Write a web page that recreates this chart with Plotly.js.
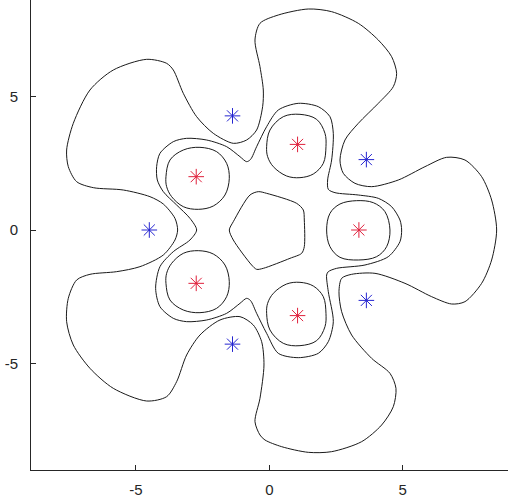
<!DOCTYPE html>
<html>
<head>
<meta charset="utf-8">
<script src="https://cdn.plot.ly/plotly-3.0.1.min.js"></script>
<style>html,body{margin:0;padding:0;background:#fff;}#chart{width:508px;height:499px;}</style>
</head>
<body>
<div id="chart"></div>
<script>
// Outer 5-petal contour
const outerX = [-7.60,-7.35,-6.725,-5.85,-4.60,-3.85,-3.60,-3.225,-2.725,-2.10,-1.35,-0.85,-0.475,-0.25,-0.225,-0.35,-0.5375,-0.35,0.3375,1.4625,2.3375,3.3375,4.0875,4.5875,4.775,4.65,4.0875,3.3375,2.8375,2.65,2.775,3.2125,3.8375,4.8375,5.8375,6.65,7.3375,7.9625,8.3375,8.525,8.3375,7.9625,7.3375,6.8375,6.0875,5.0875,3.9625,3.0875,2.7125,2.6125,2.7125,3.0875,3.8375,4.525,4.75,4.65,4.2125,3.4625,2.3375,1.4625,0.4625,-0.1625,-0.35,-0.5375,-0.35,-0.20,-0.2875,-0.60,-1.10,-1.85,-2.60,-3.10,-3.475,-3.85,-4.60,-5.85,-6.725,-7.35,-7.60,-7.5375,-7.225,-6.725,-5.725,-4.85,-3.975,-3.5375,-3.4375,-3.5375,-3.975,-4.475,-5.475,-6.60,-7.225,-7.5375,-7.60];
const outerY = [3.00,4.00,5.25,6.00,6.40,6.25,6.00,5.125,4.25,3.625,3.25,3.375,3.75,4.625,5.25,6.125,7.125,7.75,8.0625,8.2875,8.1875,7.75,7.125,6.50,5.875,5.375,4.75,4.00,3.375,2.625,2.125,1.75,1.625,1.875,2.375,2.725,2.625,2.00,1.125,0,-1.125,-2.00,-2.6875,-2.775,-2.50,-2.00,-1.625,-1.6625,-1.8125,-2.3125,-3.0625,-3.9375,-4.8125,-5.375,-5.9375,-6.625,-7.3125,-7.9375,-8.3125,-8.3375,-8.125,-7.875,-7.6875,-7.1875,-6.3125,-5.0625,-4.1875,-3.5625,-3.25,-3.375,-3.9375,-4.6875,-5.6875,-6.25,-6.4125,-5.9375,-5.1875,-4.3125,-3.4375,-2.5625,-1.875,-1.6625,-1.5625,-1.375,-0.9375,-0.375,0,0.4375,0.975,1.25,1.50,1.5875,1.8125,2.375,3.00];

// Middle contour enclosing the five loops
const midX = [-4.225,-4.10,-3.60,-3.10,-2.35,-1.60,-1.10,-0.85,-0.70,-0.475,-0.10,0.3375,1.0875,1.8375,2.275,2.40,2.3375,2.1875,2.2125,2.4625,3.3375,4.0875,4.5875,4.90,4.9625,4.90,4.4625,3.5875,2.525,2.2125,2.15,2.2125,2.40,2.2125,1.8375,1.0875,0.3375,-0.10,-0.475,-0.70,-0.85,-1.10,-1.60,-2.35,-3.10,-3.60,-4.10,-4.2625,-4.10,-3.60,-2.975,-2.725,-2.975,-3.475,-3.975,-4.20,-4.225];
const midY = [2.375,2.875,3.3125,3.4375,3.375,3.125,2.75,2.5625,2.65,3.125,3.875,4.50,4.75,4.625,4.25,3.625,2.625,1.875,1.525,1.40,1.3125,1.1875,0.875,0.375,0,-0.4375,-1.00,-1.3125,-1.4375,-1.5625,-1.6875,-2.3125,-3.4375,-4.1875,-4.625,-4.7875,-4.625,-3.875,-3.125,-2.65,-2.5625,-2.75,-3.125,-3.375,-3.4375,-3.3125,-2.875,-2.1875,-1.375,-0.8125,-0.375,0,0.4375,0.9375,1.4375,1.875,2.375];

// Five small loops around the red points
const loopTopX = [-0.10,0.025,0.525,1.15,1.775,2.0875,2.125,2.025,1.65,1.15,0.65,0.15,-0.0625,-0.10];
const loopTopY = [3.125,3.75,4.25,4.3375,4.15,3.625,3.125,2.50,2.10,1.9625,2.025,2.375,2.75,3.125];
const loopBotX = [-0.10,0.025,0.525,1.15,1.775,2.0875,2.125,2.025,1.65,1.15,0.65,0.15,-0.0625,-0.10];
const loopBotY = [-3.125,-3.75,-4.25,-4.3375,-4.15,-3.625,-3.125,-2.50,-2.10,-1.9625,-2.025,-2.375,-2.75,-3.125];
const loopRightX = [2.15,2.275,2.65,3.275,3.90,4.3375,4.525,4.40,4.025,3.3375,2.65,2.275,2.15];
const loopRightY = [0,0.625,0.975,1.10,1.025,0.6875,0,-0.625,-1.00,-1.125,-1.025,-0.625,0];
const loopULX = [-3.875,-3.725,-3.225,-2.60,-1.975,-1.60,-1.50,-1.6625,-2.10,-2.6625,-3.225,-3.6625,-3.85,-3.875];
const loopULY = [2.00,2.625,3.00,3.10,2.9375,2.50,1.9375,1.3125,0.90,0.775,0.875,1.25,1.625,2.00];
const loopLLX = [-3.875,-3.725,-3.225,-2.60,-1.975,-1.60,-1.50,-1.6625,-2.10,-2.6625,-3.225,-3.6625,-3.85,-3.875];
const loopLLY = [-2.00,-2.625,-3.00,-3.10,-2.9375,-2.50,-1.9375,-1.3125,-0.90,-0.775,-0.875,-1.25,-1.625,-2.00];

// Central rounded pentagon
const pentX = [-0.4125,-0.10,1.025,1.275,1.3125,1.3125,1.2125,0.775,-0.225,-0.475,-0.6625,-1.35,-1.50,-1.35,-0.725,-0.4125];
const pentY = [1.4375,1.375,1.00,0.75,0.375,-0.625,-0.875,-1.0625,-1.4375,-1.475,-1.3125,-0.375,0,0.3125,1.3125,1.4375];

// Marked points
const redX = [3.36,1.06,-2.74,-2.74,1.06];
const redY = [0,3.21,2.0,-2.0,-3.21];
const blueX = [-4.5,3.64,3.64,-1.38,-1.38];
const blueY = [0,2.64,-2.64,4.28,-4.28];

function curve(x,y,s){ return {type:'scatter', mode:'lines', x:x, y:y,
  line:{color:'#1a1a1a', width:1, shape:'spline', smoothing:s}, hoverinfo:'skip', showlegend:false}; }

const traces = [
  curve(outerX, outerY, 0.8),
  curve(midX, midY, 0.8),
  curve(loopTopX, loopTopY, 1.0),
  curve(loopBotX, loopBotY, 1.0),
  curve(loopRightX, loopRightY, 1.0),
  curve(loopULX, loopULY, 1.0),
  curve(loopLLX, loopLLY, 1.0),
  curve(pentX, pentY, 0.8),
  {type:'scatter', mode:'markers', x:redX, y:redY, showlegend:false,
   marker:{symbol:'asterisk-open', size:13, color:'#e0203c', line:{color:'#e0203c', width:1}}},
  {type:'scatter', mode:'markers', x:blueX, y:blueY, showlegend:false,
   marker:{symbol:'asterisk-open', size:13, color:'#2424d0', line:{color:'#2424d0', width:1}}}
];

const axisCommon = {
  showgrid:false, zeroline:false, showline:true, linecolor:'#262626', linewidth:1,
  ticks:'inside', ticklen:5, tickcolor:'#262626', tickwidth:1,
  tickvals:[-5,0,5], ticktext:['-5','0','5'],
  tickfont:{family:'"Liberation Sans", Arial, sans-serif', size:15, color:'#262626'},
  mirror:false
};

const layout = {
  width:508, height:499,
  margin:{l:31, r:0, t:0, b:29},
  paper_bgcolor:'#ffffff', plot_bgcolor:'#ffffff',
  xaxis:Object.assign({}, axisCommon, {range:[-8.936, 8.951], ticklabelstandoff:6}),
  yaxis:Object.assign({}, axisCommon, {range:[-9.0, 8.625], ticklabelstandoff:9}),
  showlegend:false
};

Plotly.newPlot('chart', traces, layout, {displayModeBar:false, staticPlot:true});
</script>
</body>
</html>
